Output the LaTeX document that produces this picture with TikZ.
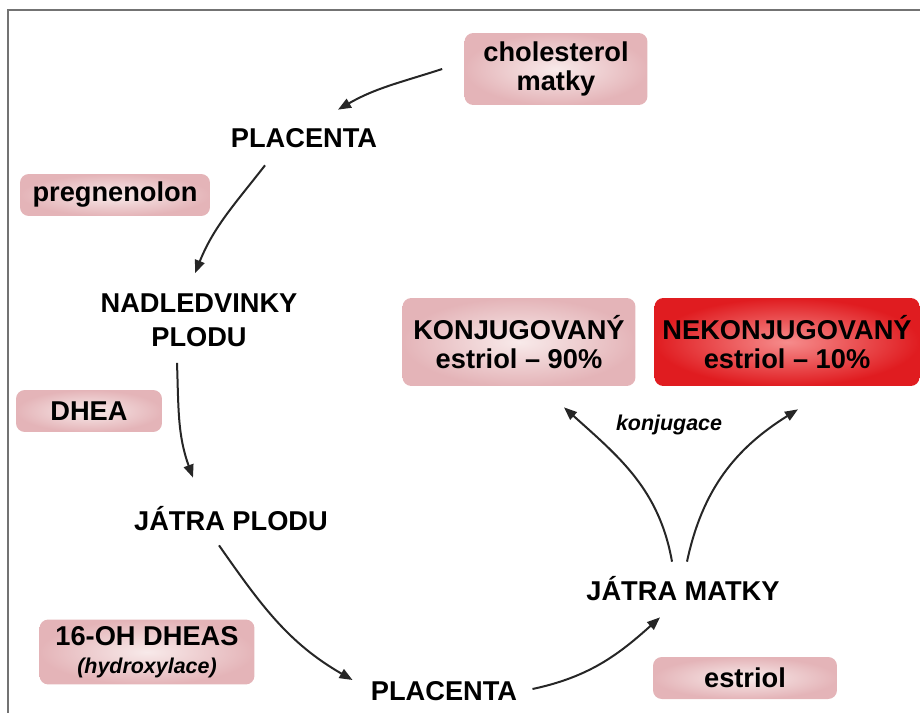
\documentclass[tikz,border=0pt]{standalone}
\usepackage{fontspec}
\setmainfont{Liberation Sans}
\usetikzlibrary{arrows.meta}
\definecolor{ruzovaOkraj}{RGB}{228,180,184}
\definecolor{ruzovaStred}{RGB}{248,234,234}
\definecolor{cervenaOkraj}{RGB}{224,28,32}
\definecolor{cervenaStred}{RGB}{246,140,140}

\begin{document}
\begin{tikzpicture}[x=0.02cm, y=0.02cm,
    popis/.style={font=\bfseries\fontsize{15.5}{17}\selectfont, align=center, inner sep=0pt},
    uzel/.style={popis, text height=0.4cm, text depth=0cm},
    ramecek/.style={popis, rounded corners=5pt, inner color=ruzovaStred, outer color=ruzovaOkraj},
    cerveny/.style={popis, rounded corners=5pt, inner color=cervenaStred, outer color=cervenaOkraj},
    sipka/.style={-{Triangle[length=0.26cm,width=0.2cm]}, line width=0.04cm, black!85}]
    \useasboundingbox (0,0) rectangle (920,-713);

    % Ramecek
    \draw[black!55, line width=0.05cm] (920,-10) -- (8,-10) -- (8,-713);

    % Uzly cyklu
    \node[uzel] (plac1) at (304,-138) {PLACENTA};
    \node[popis, font=\bfseries\fontsize{15.5}{19.3}\selectfont] (nad) at (199,-320) {NADLEDVINKY\\PLODU};
    \node[uzel] (jpl) at (231,-520) {JÁTRA PLODU};
    \node[uzel] (plac2) at (444,-690) {PLACENTA};
    \node[uzel] (jm) at (683,-590) {JÁTRA MATKY};

    % Latky
    \node[ramecek, minimum width=3.66cm, minimum height=1.44cm] (chol) at (556,-69) {cholesterol\\matky};
    \node[ramecek, minimum width=3.8cm, minimum height=0.84cm] (preg) at (115,-195) {pregnenolon};
    \node[ramecek, minimum width=2.92cm, minimum height=0.84cm] (dhea) at (89,-411) {DHEA};
    \node[ramecek, minimum width=4.3cm, minimum height=1.3cm] (oh) at (147,-652)
        {16-OH DHEAS\\[-1pt]{\itshape\fontsize{12.2}{14}\selectfont (hydroxylace)}};
    \node[ramecek, minimum width=3.68cm, minimum height=0.84cm] (est) at (745,-678) {estriol};

    % Vysledek
    \node[ramecek, minimum width=4.66cm, minimum height=1.76cm] (konj) at (519,-342) {KONJUGOVANÝ\\estriol – 90\%};
    \node[cerveny, minimum width=5.3cm, minimum height=1.76cm] (nekonj) at (787,-342) {NEKONJUGOVANÝ\\estriol – 10\%};
    \node[popis, font=\bfseries\itshape\fontsize{12.2}{14}\selectfont] (konjug) at (669,-425) {konjugace};

    % Sipky
    \draw[sipka] ([xshift=-0.44cm]chol.west) to[out=198,in=30] ([xshift=0.68cm,yshift=0.36cm]plac1.north);
    \draw[sipka] ([xshift=-0.78cm,yshift=-0.34cm]plac1.south) to[out=232,in=68] ([xshift=-0.08cm,yshift=0.4cm]nad.north);
    \draw[sipka] ([xshift=-0.44cm,yshift=-0.32cm]nad.south) to[out=272,in=110] ([xshift=-0.76cm,yshift=0.64cm]jpl.north);
    \draw[sipka] ([xshift=-0.24cm,yshift=-0.3cm]jpl.south) to[out=305,in=150] ([xshift=-0.36cm,yshift=0.2cm]plac2.west);
    \draw[sipka] ([xshift=0.3cm,yshift=0.02cm]plac2.east) to[out=12,in=222] ([xshift=-0.46cm,yshift=-0.34cm]jm.south);
    \draw[sipka] ([xshift=-0.22cm,yshift=0.36cm]jm.north) to[out=100,in=-42] ([xshift=0.9cm,yshift=-0.42cm]konj.south);
    \draw[sipka] ([xshift=0.08cm,yshift=0.36cm]jm.north) to[out=78,in=212] ([xshift=0.22cm,yshift=-0.46cm]nekonj.south);
\end{tikzpicture}
\end{document}
